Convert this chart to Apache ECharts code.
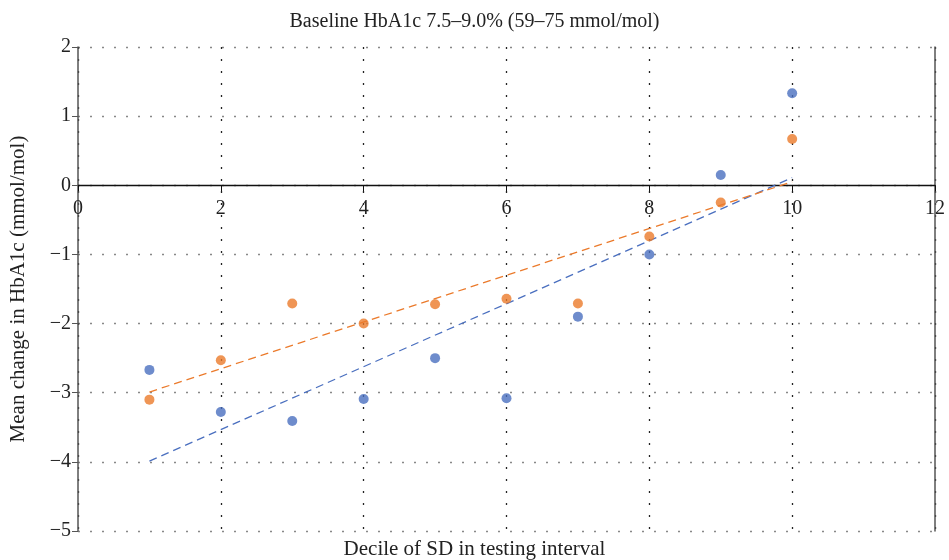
<!DOCTYPE html>
<html>
<head>
<meta charset="utf-8">
<script src="https://cdn.jsdelivr.net/npm/echarts@6/dist/echarts.min.js"></script>
<style>
  html, body { margin: 0; padding: 0; background: #fff; }
  #chart { width: 949px; height: 560px; }
</style>
</head>
<body>
<div id="chart"></div>
<script>
  // deciles
  var deciles = [1, 2, 3, 4, 5, 6, 7, 8, 9, 10]
  // blue series
  var blueValues = [-2.67, -3.28, -3.41, -3.09, -2.50, -3.08, -1.90, -1.00, 0.15, 1.33]
  // orange series
  var orangeValues = [-3.10, -2.53, -1.71, -2.00, -1.72, -1.64, -1.71, -0.74, -0.25, 0.67]
  // trend line end points (x, y)
  var blueTrend = [[1, -3.99], [10, 0.11]]
  var orangeTrend = [[1, -2.99], [10, 0.05]]
  var xTicks = [0, 2, 4, 6, 8, 10, 12]
  var yTicks = [-5, -4, -3, -2, -1, 0, 1, 2]

  var font = 'Liberation Serif'
  var blue = '#4A6FBF'
  var orange = '#EB7A2B'

  var gridTop = 47
  var gridBottom = 29
  var chartH = 560

  function pairs (xs, ys) {
    return xs.map(function (x, i) { return [x, ys[i]] })
  }

  // x axis sits on y = 0, moved up from the bottom of the grid
  var yMin = yTicks[0]
  var yMax = yTicks[yTicks.length - 1]
  var plotH = chartH - gridTop - gridBottom
  var zeroOffset = -plotH * (0 - yMin) / (yMax - yMin)

  var chart = echarts.init(document.getElementById('chart'))
  var option = {
    animation: false,
    textStyle: { fontFamily: font },
    title: [
      {
        text: 'Baseline HbA1c 7.5–9.0% (59–75 mmol/mol)',
        left: 'center',
        top: 7,
        textStyle: { fontFamily: font, fontSize: 20, fontWeight: 'normal', color: '#222' }
      },
      {
        text: 'Decile of SD in testing interval',
        left: 'center',
        top: 534,
        textStyle: { fontFamily: font, fontSize: 21, fontWeight: 'normal', color: '#222' }
      }
    ],
    grid: { left: 78, right: 14, top: gridTop, bottom: gridBottom, outerBoundsMode: 'none', containLabel: false },
    xAxis: {
      type: 'value',
      min: xTicks[0],
      max: xTicks[xTicks.length - 1],
      interval: 2,
      position: 'bottom',
      offset: zeroOffset,
      axisLine: { onZero: false, lineStyle: { color: '#111', width: 1.3 } },
      axisTick: { show: true, length: 6, lineStyle: { color: '#111' } },
      axisLabel: { fontFamily: font, fontSize: 20, color: '#222', margin: 13 },
      splitLine: { show: true, lineStyle: { color: '#222', type: [2, 10], width: 1.3 } }
    },
    yAxis: [
      {
        type: 'value',
        min: yMin,
        max: yMax,
        interval: 1,
        name: 'Mean change in HbA1c (mmol/mol)',
        nameLocation: 'middle',
        nameGap: 49,
        nameTextStyle: { fontFamily: font, fontSize: 21, color: '#222' },
        axisLine: { show: true, onZero: false, lineStyle: { color: '#555', width: 1.5 } },
        axisTick: { show: true, length: 6, lineStyle: { color: '#555' } },
        axisLabel: {
          fontFamily: font,
          fontSize: 20,
          color: '#222',
          margin: 7,
          formatter: function (v) { return v < 0 ? '\u2212' + Math.abs(v) : String(v) }
        },
        splitLine: { show: true, lineStyle: { color: '#888', type: [2, 10], width: 1.3 } }
      },
      {
        // right border
        type: 'value',
        position: 'right',
        min: yMin,
        max: yMax,
        axisLine: { show: true, onZero: false, lineStyle: { color: '#555', width: 1.5 } },
        axisTick: { show: false },
        axisLabel: { show: false },
        splitLine: { show: false }
      }
    ],
    series: [
      {
        type: 'scatter',
        data: pairs(deciles, blueValues),
        symbolSize: 10,
        itemStyle: { color: blue },
        z: 5
      },
      {
        type: 'scatter',
        data: pairs(deciles, orangeValues),
        symbolSize: 10,
        itemStyle: { color: orange },
        z: 5
      },
      {
        type: 'line',
        data: blueTrend,
        symbol: 'none',
        lineStyle: { color: blue, width: 1.3, type: [8, 5] },
        z: 4
      },
      {
        type: 'line',
        data: orangeTrend,
        symbol: 'none',
        lineStyle: { color: orange, width: 1.3, type: [8, 5] },
        z: 4
      }
    ]
  }
  chart.setOption(option)
</script>
</body>
</html>
